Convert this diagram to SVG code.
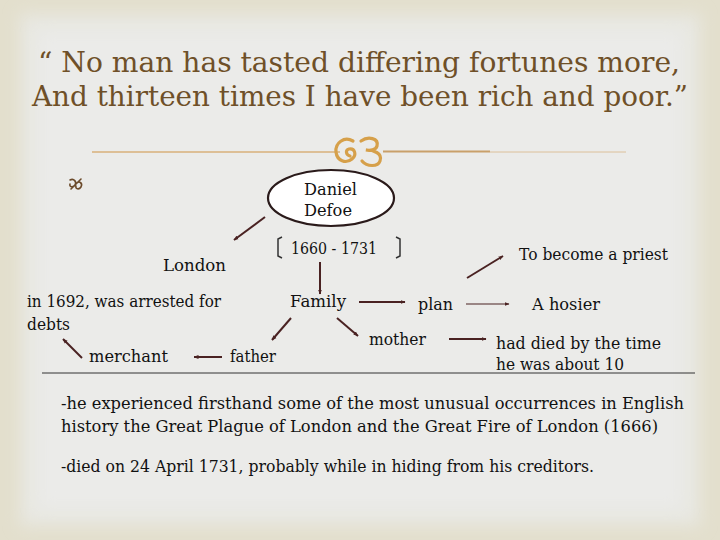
<svg xmlns="http://www.w3.org/2000/svg" width="720" height="540" viewBox="0 0 720 540">
<defs>
<filter id="soft" x="-10%" y="-10%" width="120%" height="120%"><feGaussianBlur stdDeviation="8"/></filter>
<marker id="ah" viewBox="0 0 10 10" refX="9" refY="5" markerWidth="5" markerHeight="5" orient="auto" markerUnits="userSpaceOnUse">
<path d="M0,1 L10,5 L0,9 Z" fill="#4a2222"/>
</marker>
<style>
.t{font-size:16px;fill:#111111}
.title{font-size:28px;fill:#6f5028}
.c{stroke:#4a2222;stroke-width:2;fill:none;marker-end:url(#ah)}
.c1{stroke:#4a2222;stroke-width:1.2;fill:none;marker-end:url(#ah)}
</style>
</defs>
<rect x="0" y="0" width="720" height="540" fill="#e3dfcd"/>
<rect x="20" y="14" width="680" height="512" fill="#e8e8e2" filter="url(#soft)"/>
<rect x="38" y="32" width="644" height="476" fill="#ebebe9" filter="url(#soft)"/>

<g id="title" font-family="DejaVu Serif, serif">
<text class="title" x="38" y="72" textLength="642" lengthAdjust="spacingAndGlyphs">“ No man has tasted differing fortunes more,</text>
<text class="title" x="32" y="106" textLength="656" lengthAdjust="spacingAndGlyphs">And thirteen times I have been rich and poor.”</text>
</g>

<g id="divider">
<line x1="92" y1="152" x2="340" y2="152" stroke="#d9b07a" stroke-width="1.3"/>
<line x1="383" y1="151.5" x2="490" y2="151.5" stroke="#c9a06a" stroke-width="2"/>
<line x1="490" y1="152" x2="626" y2="152" stroke="#dcc09a" stroke-width="1"/>
<path d="M353,141 C344,136 335,143 336,152 C337,161 346,164 352,159 C357,155 355,148 349,149 C345,150 346,155 350,156" fill="none" stroke="#d6a04a" stroke-width="3.2" stroke-linecap="round"/>
<path d="M361,141 C368,136 379,138 377,146 C376,150 370,151 366,150 C373,150 383,153 380,161 C378,167 367,167 362,161" fill="none" stroke="#d6a04a" stroke-width="3.2" stroke-linecap="round"/>
</g>

<g id="bullet">
<path d="M70,180 C74,178 77,182 75,185 C73,188 69,187 70,184 M76,184 C79,180 83,183 81,187 C79,190 75,189 76,186 M71,189 L81,179" fill="none" stroke="#6b4a2a" stroke-width="1.6" stroke-linecap="round"/>
</g>

<g id="connectors">
<path class="c" d="M265,217 L234,240"/>
<path class="c" d="M320,262 L320,294"/>
<path class="c" d="M291,318 L272,340"/>
<path class="c" d="M337,318 L358,336"/>
<path class="c" d="M359,302 L405,302"/>
<path class="c1" d="M466,304 L509,304"/>
<path class="c" d="M467,278 L503,256"/>
<path class="c" d="M449,339 L486,339"/>
<path class="c" d="M222,357 L194,357"/>
<path class="c" d="M82,358 L63,339"/>
</g>

<g font-family="DejaVu Serif, serif">
<g id="daniel-defoe">
<ellipse cx="331" cy="198" rx="63" ry="28" fill="#ffffff" stroke="#2a1a1a" stroke-width="2.2"/>
<text class="t" x="304" y="195" textLength="53" lengthAdjust="spacingAndGlyphs">Daniel</text>
<text class="t" x="304" y="216" textLength="48" lengthAdjust="spacingAndGlyphs">Defoe</text>
</g>

<g id="years">
<path d="M282,237 L278,239 L278,256 L282,258" fill="none" stroke="#333" stroke-width="1.5"/>
<path d="M396,237 L400,239 L400,256 L396,258" fill="none" stroke="#333" stroke-width="1.5"/>
<text class="t" x="291" y="254" textLength="86" lengthAdjust="spacingAndGlyphs">1660 - 1731</text>
</g>

<g id="london"><text class="t" x="163" y="271" textLength="63" lengthAdjust="spacingAndGlyphs">London</text></g>
<g id="arrested">
<text class="t" x="27" y="307" textLength="194" lengthAdjust="spacingAndGlyphs">in 1692, was arrested for</text>
<text class="t" x="27" y="330" textLength="43" lengthAdjust="spacingAndGlyphs">debts</text>
</g>
<g id="family"><text class="t" x="290" y="307" textLength="56" lengthAdjust="spacingAndGlyphs">Family</text></g>
<g id="plan"><text class="t" x="418" y="310" textLength="35" lengthAdjust="spacingAndGlyphs">plan</text></g>
<g id="hosier"><text class="t" x="532" y="310" textLength="68" lengthAdjust="spacingAndGlyphs">A hosier</text></g>
<g id="priest"><text class="t" x="519" y="260" textLength="149" lengthAdjust="spacingAndGlyphs">To become a priest</text></g>
<g id="mother"><text class="t" x="369" y="345" textLength="57" lengthAdjust="spacingAndGlyphs">mother</text></g>
<g id="died">
<text class="t" x="496" y="349" textLength="165" lengthAdjust="spacingAndGlyphs">had died by the time</text>
<text class="t" x="496" y="370" textLength="128" lengthAdjust="spacingAndGlyphs">he was about 10</text>
</g>
<g id="father"><text class="t" x="230" y="362" textLength="46" lengthAdjust="spacingAndGlyphs">father</text></g>
<g id="merchant"><text class="t" x="89" y="362" textLength="79" lengthAdjust="spacingAndGlyphs">merchant</text></g>

<line x1="42" y1="373" x2="695" y2="373" stroke="#333" stroke-width="1"/>

<g id="notes">
<text class="t" x="61" y="409" textLength="623" lengthAdjust="spacingAndGlyphs">-he experienced firsthand some of the most unusual occurrences in English</text>
<text class="t" x="61" y="432" textLength="597" lengthAdjust="spacingAndGlyphs">history the Great Plague of London and the Great Fire of London (1666)</text>
<text class="t" x="61" y="472" textLength="533" lengthAdjust="spacingAndGlyphs">-died on 24 April 1731, probably while in hiding from his creditors.</text>
</g>
</g>
</svg>
